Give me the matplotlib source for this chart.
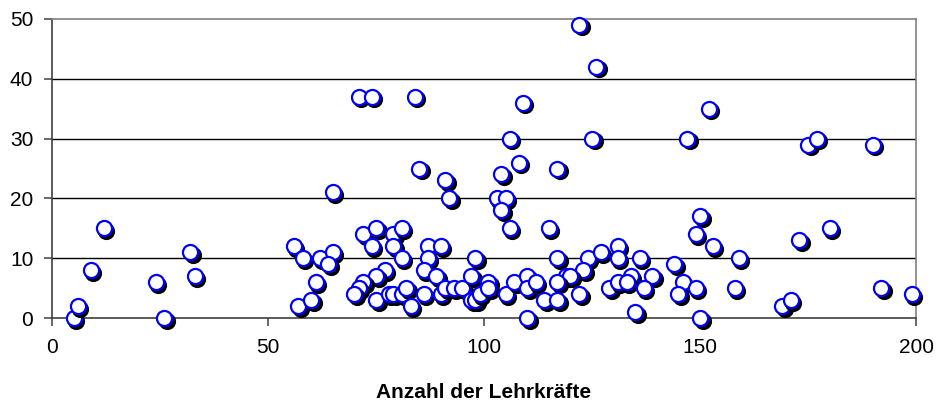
import matplotlib
matplotlib.use("Agg")
import matplotlib.pyplot as plt
from matplotlib.transforms import offset_copy

plt.rcParams["font.family"] = ["Liberation Sans", "DejaVu Sans"]

# Number of teachers (x) and corresponding value (y) per school
lehrkraefte = [
    5, 6, 9, 12, 24, 26, 32, 33,
    56, 58, 57, 60, 61, 62, 65, 64, 65,
    71, 74, 84,
    72, 75, 79, 81, 74, 79, 81,
    77, 75, 72, 71, 70, 75, 78, 79, 81, 82, 83,
    85, 91, 92,
    87, 90, 87, 86, 89,
    86, 90, 91, 93, 95, 97, 97, 98, 99, 98,
    104, 108, 106, 109, 103, 105, 104, 106,
    101, 101, 105, 107, 110, 110, 112, 114, 110,
    122, 126, 125, 117, 115,
    117, 124, 127, 123, 119, 120, 117, 117, 122,
    129, 131, 131, 131, 136, 134, 139, 133, 137, 135, 144,
    152, 147, 150, 149, 153, 159, 146, 145, 149, 158, 150,
    169, 171, 173, 175, 177, 180, 190, 192, 199,
]
werte = [
    0, 2, 8, 15, 6, 0, 11, 7,
    12, 10, 2, 3, 6, 10, 11, 9, 21,
    37, 37, 37,
    14, 15, 14, 15, 12, 12, 10,
    8, 7, 6, 5, 4, 3, 4, 4, 4, 5, 2,
    25, 23, 20,
    12, 12, 10, 8, 7,
    4, 4, 5, 5, 5, 7, 3, 3, 4, 10,
    24, 26, 30, 36, 20, 20, 18, 15,
    6, 5, 4, 6, 7, 5, 6, 3, 0,
    49, 42, 30, 25, 15,
    10, 10, 11, 8, 7, 7, 6, 3, 4,
    5, 6, 12, 10, 10, 7, 7, 6, 5, 1, 9,
    35, 30, 17, 14, 12, 10, 6, 4, 5, 5, 0,
    2, 3, 13, 29, 30, 15, 29, 5, 4,
]

x_ticks = [0, 50, 100, 150, 200]
y_ticks = [0, 10, 20, 30, 40, 50]
x_title = "Anzahl der Lehrkräfte"

fig = plt.figure(figsize=(9.38, 4.03), dpi=100)
ax = fig.add_axes([52 / 938, 1 - 318 / 403, (916 - 52) / 938, (318 - 19) / 403])

shadow_tr = offset_copy(ax.transData, fig=fig, x=2.5, y=-2.5, units="dots")

for i, (xv, yv) in enumerate(zip(lehrkraefte, werte)):
    ax.scatter([xv], [yv], s=118, color="black", edgecolors="black",
               linewidths=1.5, transform=shadow_tr, zorder=10 + 2 * i,
               clip_on=False)
    ax.scatter([xv], [yv], s=118, facecolors="white", edgecolors="#0000FF",
               linewidths=1.6, zorder=11 + 2 * i, clip_on=False)

ax.set_xlim(0, 200)
ax.set_ylim(0, 50)
ax.set_xticks(x_ticks)
ax.set_yticks(y_ticks)
ax.set_xticklabels([str(v) for v in x_ticks], fontsize=15)
ax.set_yticklabels([str(v) for v in y_ticks], fontsize=15)

for yv in y_ticks[1:-1]:
    ax.axhline(yv, color="black", linewidth=1.0, zorder=1)

ax.spines["top"].set_color("#808080")
ax.spines["right"].set_color("#808080")
ax.spines["left"].set_color("#404040")
ax.spines["bottom"].set_color("#404040")
for sp in ax.spines.values():
    sp.set_linewidth(1.2)
    sp.set_zorder(2)

ax.tick_params(axis="both", direction="out", length=5.5, width=1.2,
               color="#505050", labelcolor="black")
ax.tick_params(axis="x", pad=9)
ax.tick_params(axis="y", pad=8)

ax.set_xlabel(x_title, fontsize=15, fontweight="bold", va="center")
ax.xaxis.set_label_coords(0.5, (318 - 392) / (318 - 19))

fig.savefig("out.png", dpi=100)
